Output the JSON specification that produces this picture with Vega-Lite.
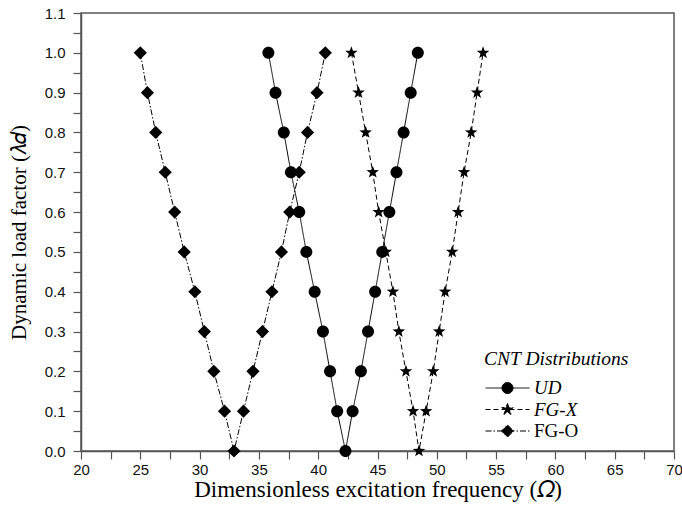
{
  "$schema": "https://vega.github.io/schema/vega-lite/v6.json",
  "width": 593,
  "height": 438,
  "autosize": {"type": "none"},
  "padding": {"left": 81, "top": 13, "right": 8, "bottom": 68},
  "background": "white",
  "config": {
    "view": {"stroke": "#555555", "strokeWidth": 1.5},
    "font": "Liberation Sans"
  },
  "data": {
    "values": [
      {"series": "FG-O", "x": 25.0, "y": 1.0},
      {"series": "FG-O", "x": 25.6, "y": 0.9},
      {"series": "FG-O", "x": 26.3, "y": 0.8},
      {"series": "FG-O", "x": 27.1, "y": 0.7},
      {"series": "FG-O", "x": 27.9, "y": 0.6},
      {"series": "FG-O", "x": 28.7, "y": 0.5},
      {"series": "FG-O", "x": 29.6, "y": 0.4},
      {"series": "FG-O", "x": 30.4, "y": 0.3},
      {"series": "FG-O", "x": 31.2, "y": 0.2},
      {"series": "FG-O", "x": 32.1, "y": 0.1},
      {"series": "FG-O", "x": 32.9, "y": 0.0},
      {"series": "FG-O", "x": 33.7, "y": 0.1},
      {"series": "FG-O", "x": 34.5, "y": 0.2},
      {"series": "FG-O", "x": 35.3, "y": 0.3},
      {"series": "FG-O", "x": 36.1, "y": 0.4},
      {"series": "FG-O", "x": 36.9, "y": 0.5},
      {"series": "FG-O", "x": 37.6, "y": 0.6},
      {"series": "FG-O", "x": 38.4, "y": 0.7},
      {"series": "FG-O", "x": 39.1, "y": 0.8},
      {"series": "FG-O", "x": 39.9, "y": 0.9},
      {"series": "FG-O", "x": 40.6, "y": 1.0},
      {"series": "UD", "x": 35.8, "y": 1.0},
      {"series": "UD", "x": 36.4, "y": 0.9},
      {"series": "UD", "x": 37.1, "y": 0.8},
      {"series": "UD", "x": 37.7, "y": 0.7},
      {"series": "UD", "x": 38.4, "y": 0.6},
      {"series": "UD", "x": 39.0, "y": 0.5},
      {"series": "UD", "x": 39.7, "y": 0.4},
      {"series": "UD", "x": 40.4, "y": 0.3},
      {"series": "UD", "x": 41.0, "y": 0.2},
      {"series": "UD", "x": 41.6, "y": 0.1},
      {"series": "UD", "x": 42.3, "y": 0.0},
      {"series": "UD", "x": 42.9, "y": 0.1},
      {"series": "UD", "x": 43.6, "y": 0.2},
      {"series": "UD", "x": 44.2, "y": 0.3},
      {"series": "UD", "x": 44.8, "y": 0.4},
      {"series": "UD", "x": 45.4, "y": 0.5},
      {"series": "UD", "x": 46.0, "y": 0.6},
      {"series": "UD", "x": 46.6, "y": 0.7},
      {"series": "UD", "x": 47.2, "y": 0.8},
      {"series": "UD", "x": 47.8, "y": 0.9},
      {"series": "UD", "x": 48.4, "y": 1.0},
      {"series": "FG-X", "x": 42.8, "y": 1.0},
      {"series": "FG-X", "x": 43.4, "y": 0.9},
      {"series": "FG-X", "x": 44.0, "y": 0.8},
      {"series": "FG-X", "x": 44.6, "y": 0.7},
      {"series": "FG-X", "x": 45.1, "y": 0.6},
      {"series": "FG-X", "x": 45.7, "y": 0.5},
      {"series": "FG-X", "x": 46.3, "y": 0.4},
      {"series": "FG-X", "x": 46.8, "y": 0.3},
      {"series": "FG-X", "x": 47.4, "y": 0.2},
      {"series": "FG-X", "x": 48.0, "y": 0.1},
      {"series": "FG-X", "x": 48.5, "y": 0.0},
      {"series": "FG-X", "x": 49.1, "y": 0.1},
      {"series": "FG-X", "x": 49.7, "y": 0.2},
      {"series": "FG-X", "x": 50.2, "y": 0.3},
      {"series": "FG-X", "x": 50.7, "y": 0.4},
      {"series": "FG-X", "x": 51.3, "y": 0.5},
      {"series": "FG-X", "x": 51.8, "y": 0.6},
      {"series": "FG-X", "x": 52.3, "y": 0.7},
      {"series": "FG-X", "x": 52.9, "y": 0.8},
      {"series": "FG-X", "x": 53.4, "y": 0.9},
      {"series": "FG-X", "x": 53.9, "y": 1.0}
    ]
  },
  "encoding": {
    "x": {
      "field": "x",
      "type": "quantitative",
      "scale": {"domain": [20, 70], "nice": false, "zero": false},
      "axis": {
        "title": "Dimensionless excitation frequency (𝛺)",
        "titleFont": "Liberation Serif",
        "titleFontSize": 23,
        "titleFontWeight": "normal",
        "titleColor": "black",
        "titlePadding": 1,
        "values": [20, 22.5, 25, 27.5, 30, 32.5, 35, 37.5, 40, 42.5, 45, 47.5, 50, 52.5, 55, 57.5, 60, 62.5, 65, 67.5, 70],
        "labelExpr": "datum.value % 5 === 0 ? datum.label : ''",
        "labelFont": "Liberation Sans",
        "labelFontSize": 15,
        "labelColor": "#111111",
        "labelPadding": 3,
        "labelFlush": false,
        "labelOverlap": false,
        "tickSize": 8,
        "tickColor": "#555555",
        "tickWidth": 1.2,
        "domainColor": "#555555",
        "domainWidth": 1.5,
        "grid": false,
        "encode": {
          "ticks": {"update": {"y2": {"signal": "datum.value % 5 === 0 ? 8 : 4"}}}
        }
      }
    },
    "y": {
      "field": "y",
      "type": "quantitative",
      "scale": {"domain": [0, 1.1], "nice": false},
      "axis": {
        "title": "Dynamic load factor (𝜆𝑑)",
        "titleFont": "Liberation Serif",
        "titleFontSize": 21,
        "titleFontWeight": "normal",
        "titleColor": "black",
        "titlePadding": 15,
        "values": [0, 0.05, 0.1, 0.15, 0.2, 0.25, 0.3, 0.35, 0.4, 0.45, 0.5, 0.55, 0.6, 0.65, 0.7, 0.75, 0.8, 0.85, 0.9, 0.95, 1.0, 1.05, 1.1],
        "format": ".1f",
        "labelExpr": "round(datum.value * 100) % 10 === 0 ? datum.label : ''",
        "labelFont": "Liberation Sans",
        "labelFontSize": 15,
        "labelColor": "#111111",
        "labelPadding": 8,
        "labelFlush": false,
        "labelOverlap": false,
        "tickSize": 8,
        "tickColor": "#555555",
        "tickWidth": 1.2,
        "domainColor": "#555555",
        "domainWidth": 1.5,
        "grid": false,
        "encode": {
          "ticks": {"update": {"x2": {"signal": "round(datum.value * 100) % 10 === 0 ? -8 : -4"}}}
        }
      }
    }
  },
  "layer": [
    {
      "mark": {"type": "line", "color": "black", "strokeWidth": 1},
      "encoding": {
        "strokeDash": {
          "field": "series",
          "type": "nominal",
          "scale": {"domain": ["UD", "FG-X", "FG-O"], "range": [[1, 0], [5, 3], [6, 2, 1.5, 2]]},
          "legend": {
            "title": "CNT Distributions",
            "orient": "none",
            "legendX": 403,
            "legendY": 337,
            "padding": 0,
            "titleFont": "Liberation Serif",
            "titleFontSize": 19.5,
            "titleFontStyle": "italic",
            "titleFontWeight": "normal",
            "titleColor": "black",
            "titlePadding": 9,
            "labelFont": "Liberation Serif",
            "labelFontSize": 19,
            "labelColor": "black",
            "labelOffset": 17,
            "symbolSize": 121,
            "symbolOffset": 14,
            "symbolStrokeWidth": 1,
            "symbolStrokeColor": "black",
            "symbolFillColor": "black",
            "rowPadding": 1.5,
            "encode": {
              "symbols": {
                "update": {
                  "shape": {"signal": "datum.value === 'UD' ? 'M-4,0L4,0M-1,0A1,1,0,1,0,1,0A1,1,0,1,0,-1,0Z' : datum.value === 'FG-X' ? 'M-4,0L4,0M0,-1.1L0.265,-0.364L1.046,-0.34L0.428,0.139L0.647,0.89L0,0.45L-0.647,0.89L-0.428,0.139L-1.046,-0.34L-0.265,-0.364Z' : 'M-4,0L4,0M0,-1.1L1.1,0L0,1.1L-1.1,0Z'"},
                  "fill": {"value": "black"},
                  "stroke": {"value": "black"},
                  "opacity": {"value": 1}
                }
              },
              "labels": {
                "update": {
                  "fontStyle": {"signal": "datum.value === 'FG-O' ? 'normal' : 'italic'"}
                }
              }
            }
          }
        }
      }
    },
    {
      "transform": [{"filter": "datum.series === 'UD'"}],
      "mark": {"type": "point", "filled": true, "color": "black", "opacity": 1, "size": 144, "shape": "M-1,0A1,1,0,1,0,1,0A1,1,0,1,0,-1,0Z"}
    },
    {
      "transform": [{"filter": "datum.series === 'FG-X'"}],
      "mark": {"type": "point", "filled": true, "color": "black", "opacity": 1, "size": 144, "shape": "M0,-1.1L0.265,-0.364L1.046,-0.34L0.428,0.139L0.647,0.89L0,0.45L-0.647,0.89L-0.428,0.139L-1.046,-0.34L-0.265,-0.364Z"}
    },
    {
      "transform": [{"filter": "datum.series === 'FG-O'"}],
      "mark": {"type": "point", "filled": true, "color": "black", "opacity": 1, "size": 144, "shape": "M0,-1.1L1.1,0L0,1.1L-1.1,0Z"}
    }
  ]
}
